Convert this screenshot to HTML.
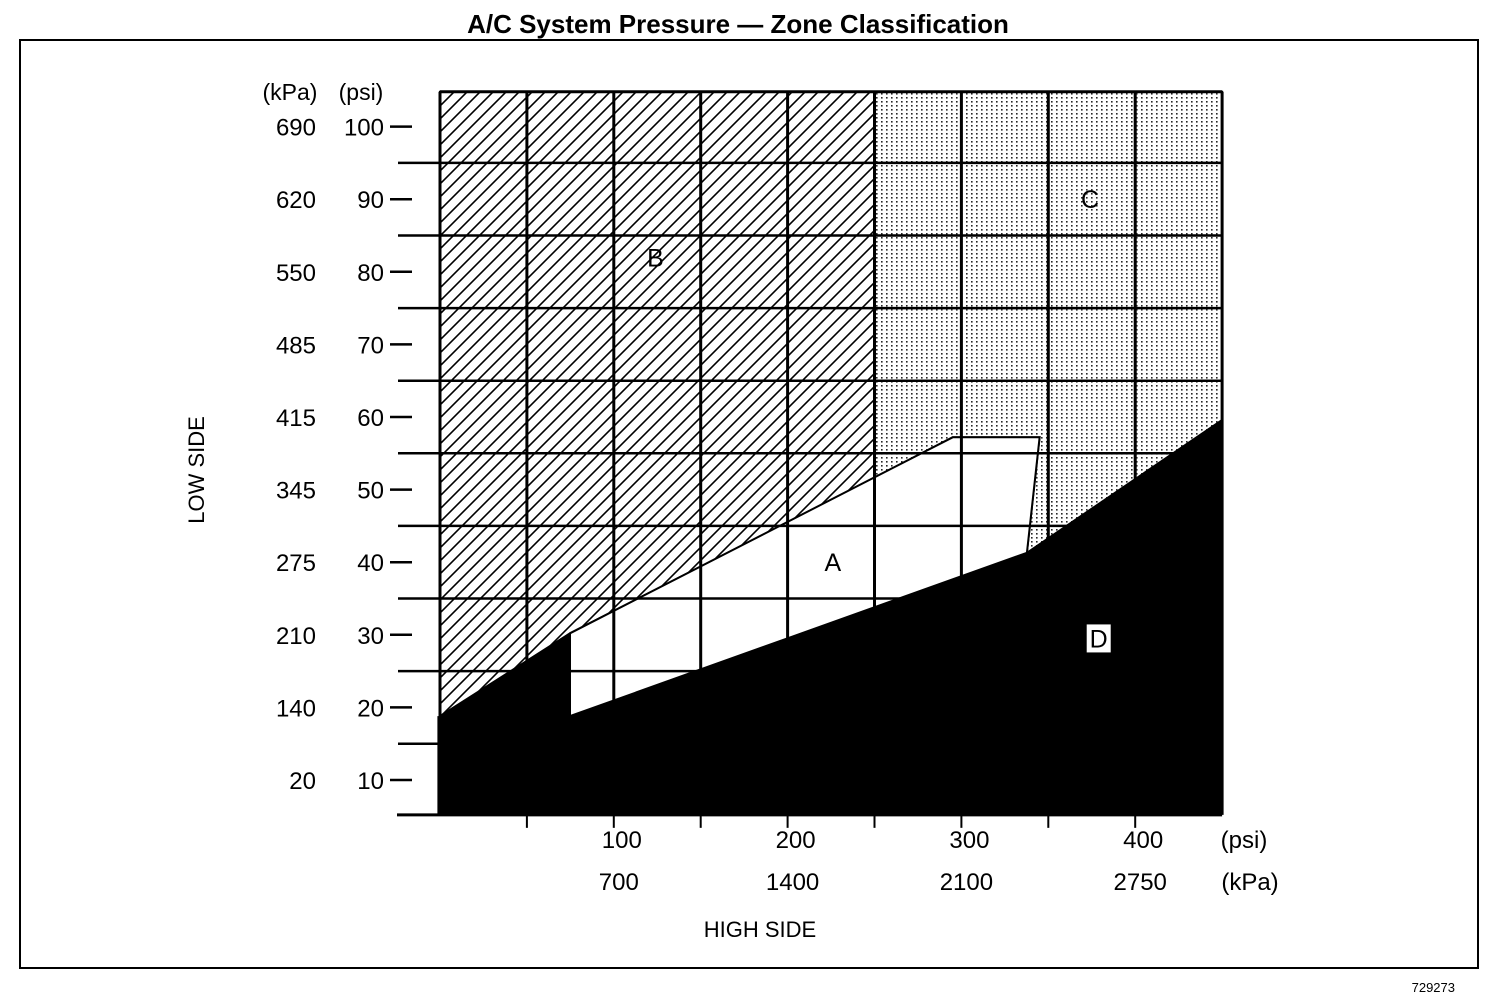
<!DOCTYPE html>
<html><head><meta charset="utf-8"><style>
html,body{margin:0;padding:0;background:#fff;}
svg{display:block;font-family:"Liberation Sans",Arial,sans-serif;}
</style></head><body>
<svg id="chart" width="1504" height="1002" viewBox="0 0 1504 1002" xmlns="http://www.w3.org/2000/svg">
<defs>
<pattern id="hatch" patternUnits="userSpaceOnUse" width="13" height="13">
<path d="M-2,15 L15,-2 M-2,2 L2,-2 M11,15 L15,11" stroke="#000" stroke-width="1.6"/>
</pattern>
<pattern id="dots" patternUnits="userSpaceOnUse" width="5" height="4">
<rect x="1" y="1" width="1.6" height="1.6" fill="#000" opacity="0.85"/>
</pattern>
</defs>
<text x="738" y="33" text-anchor="middle" font-size="26" font-weight="bold">A/C System Pressure — Zone Classification</text>
<rect x="20" y="40" width="1458" height="928" fill="none" stroke="#000" stroke-width="2"/>
<g id="zones"></g>
<g id="grid"></g>
<g id="labels"></g>
<text transform="translate(204,470) rotate(-90)" text-anchor="middle" font-size="22">LOW SIDE</text>
<text x="760" y="937" text-anchor="middle" font-size="22">HIGH SIDE</text>
<text x="1455" y="992" text-anchor="end" font-size="13">729273</text>
</svg>
<script>
// High side (psi) and low side (psi) boundary points for each zone
const zoneBHigh = [0, 250, 250, 74.8, 0];
const zoneBLow  = [104.8, 104.8, 51.6, 30.2, 18.8];
const zoneAHigh = [74.8, 295, 345, 337.7, 74.8];
const zoneALow  = [30.2, 57.2, 57.2, 41.3, 18.8];
const zoneCHigh = [250, 450, 450, 337.7, 345, 295, 250];
const zoneCLow  = [104.8, 104.8, 59.6, 41.3, 57.2, 57.2, 51.6];
const zoneDHigh = [-1.5, -1.5, 0, 74.8, 74.8, 337.7, 450, 450];
const zoneDLow  = [5.2, 18.8, 18.8, 30.2, 18.8, 41.3, 59.6, 5.2];
const xGrid = [50,100,150,200,250,300,350,400,450];
const yGrid = [15,25,35,45,55,65,75,85,95];
const yTicks = [100,90,80,70,60,50,40,30,20,10];
const yKpa = ['690','620','550','485','415','345','275','210','140','20'];
const xTicks = [100,200,300,400];
const xKpa = ['700','1400','2100','2750'];
const zoneLabels = ['A','B','C','D'];
const zoneLabelHigh = [226, 124, 374, 379];
const zoneLabelLow = [40, 82, 90, 29.5];

const NS='http://www.w3.org/2000/svg';
const X = p => 440 + p*1.738;
const Y = p => 780 - (p-10)*7.26;
const yMin=5.2, yMax=104.8, xMax=450;
function mk(tag, attrs, parent){const e=document.createElementNS(NS,tag);for(const k in attrs)e.setAttribute(k,attrs[k]);parent.appendChild(e);return e;}
const zones=document.getElementById('zones'), grid=document.getElementById('grid'), labels=document.getElementById('labels');
function poly(hs, ls, fill, name){
  const pts=hs.map((h,i)=>X(h).toFixed(1)+','+Y(ls[i]).toFixed(1)).join(' ');
  const e=mk('polygon',{points:pts,fill:fill,stroke:'#000','stroke-width':name==='zone-d'?0:2,'stroke-linejoin':'miter'},zones);
  
  
}
poly(zoneCHigh, zoneCLow, 'url(#dots)', 'zone-c');
poly(zoneBHigh, zoneBLow, 'url(#hatch)', 'zone-b');
poly(zoneAHigh, zoneALow, '#fff', 'zone-a');
poly(zoneDHigh, zoneDLow, '#000', 'zone-d');
// grid
xGrid.forEach(v=>{
  const l=mk('line',{x1:X(v),x2:X(v),y1:Y(yMax),y2:Y(yMin),stroke:'#000','stroke-width':3},grid);
  
  
  if(v<450){const t=mk('line',{x1:X(v),x2:X(v),y1:Y(yMin),y2:Y(yMin)+13,stroke:'#000','stroke-width':2},grid);
  
  }
});
yGrid.forEach(v=>{
  const l=mk('line',{x1:398,x2:X(xMax),y1:Y(v),y2:Y(v),stroke:'#000','stroke-width':2.5},grid);
  
  
});
[['top-border',440,Y(yMax),X(xMax),Y(yMax)],['left-border',X(0),Y(yMax),X(0),Y(yMin)],['x-axis-line',397,Y(yMin),X(xMax),Y(yMin)]].forEach(a=>{
  const l=mk('line',{x1:a[1],y1:a[2],x2:a[3],y2:a[4],stroke:'#000','stroke-width':3},grid);
  
  
});
// y labels
const h1=mk('text',{x:290,y:100,'font-size':23,'text-anchor':'middle'},labels);h1.textContent='(kPa)';


const h2=mk('text',{x:361,y:100,'font-size':23,'text-anchor':'middle'},labels);h2.textContent='(psi)';


yTicks.forEach((v,i)=>{
  const y=Y(v);
  const t=mk('line',{x1:390,x2:412,y1:y,y2:y,stroke:'#000','stroke-width':2.5},labels);
  
  
  const a=mk('text',{x:384,y:y+9,'font-size':24,'text-anchor':'end'},labels);a.textContent=v;
  
  
  const b=mk('text',{x:316,y:y+9,'font-size':24,'text-anchor':'end'},labels);b.textContent=yKpa[i];
  
  
});
xTicks.forEach((v,i)=>{
  const a=mk('text',{x:X(v)+8,y:848,'font-size':24,'text-anchor':'middle'},labels);a.textContent=v;
  
  
  const b=mk('text',{x:X(v)+5,y:890,'font-size':24,'text-anchor':'middle'},labels);b.textContent=xKpa[i];
  
  
});
const u1=mk('text',{x:1244,y:848,'font-size':24,'text-anchor':'middle'},labels);u1.textContent='(psi)';


const u2=mk('text',{x:1250,y:890,'font-size':24,'text-anchor':'middle'},labels);u2.textContent='(kPa)';


zoneLabels.forEach((s,i)=>{
  const x=X(zoneLabelHigh[i]), y=Y(zoneLabelLow[i]);
  if(s==='D'){const r=mk('rect',{x:x-12,y:y-14,width:24,height:28,fill:'#fff'},labels);
    
    }
  const t=mk('text',{x:x,y:y+9,'font-size':25,'text-anchor':'middle'},labels);t.textContent=s;
  
  
});
</script>
</body></html>
